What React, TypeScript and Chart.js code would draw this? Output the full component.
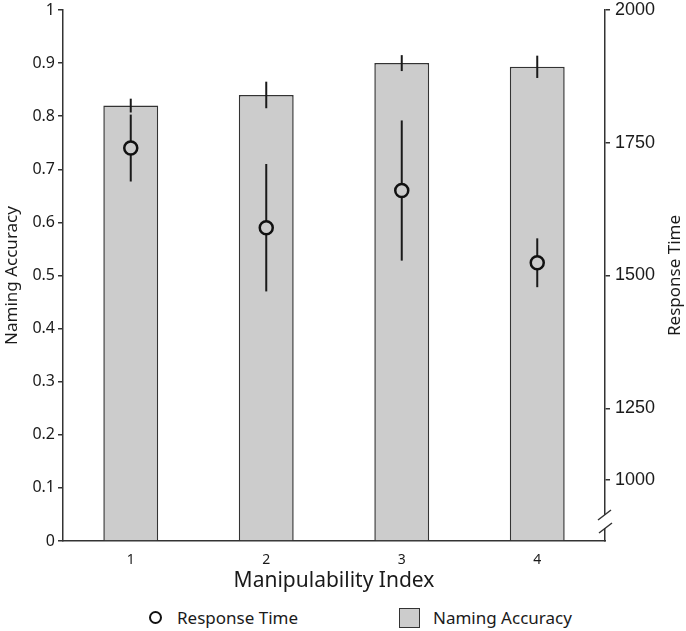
import { useEffect, useRef } from "react";
import { Chart, registerables } from "chart.js";
Chart.register(...registerables);

const categories = ["1", "2", "3", "4"];
const accuracy = [0.82, 0.84, 0.9, 0.893];
const accuracyErr = [0.013, 0.025, 0.015, 0.021];
const responseTime = [1740, 1590, 1660, 1524];
const responseTimeErr = [63, 120, 132, 46];
const accuracyTicks = [0, 0.1, 0.2, 0.3, 0.4, 0.5, 0.6, 0.7, 0.8, 0.9, 1];
// the right axis is broken: "1000" sits just above the break
const rtTickValues = [1115, 1250, 1500, 1750, 2000];
const rtTickLabels = ["1000", "1250", "1500", "1750", "2000"];

const FONT = "'Noto Sans', sans-serif";
const RIGHT_FONT = "'Liberation Sans', Arial, sans-serif";
const INK = "#1a1a1a";
const AXIS = "#333";

const errorBars = {
  id: "errorBars",
  afterDatasetDraw(chart: any, args: any) {
    if (args.index !== 0) return;
    const { ctx } = chart;
    const x = chart.scales.x;
    const y = chart.scales.y;
    const y1 = chart.scales.y1;
    ctx.save();
    ctx.strokeStyle = INK;
    ctx.lineWidth = 2;
    const vline = (px: number, a: number, b: number) => {
      ctx.beginPath();
      ctx.moveTo(px, a);
      ctx.lineTo(px, b);
      ctx.stroke();
    };
    categories.forEach((_, i) => {
      const px = x.getPixelForValue(i);
      vline(px, y.getPixelForValue(accuracy[i] + accuracyErr[i]), y.getPixelForValue(accuracy[i] - accuracyErr[i]));
      vline(px, y1.getPixelForValue(responseTime[i] + responseTimeErr[i]), y1.getPixelForValue(responseTime[i] - responseTimeErr[i]));
    });
    ctx.restore();
  },
};

const axisBreak = {
  id: "axisBreak",
  afterDraw(chart: any) {
    const { ctx, chartArea } = chart;
    const ax = chartArea.right;
    const b = chartArea.bottom;
    ctx.save();
    ctx.fillStyle = "#fff";
    ctx.fillRect(ax - 2, b - 26, 4, 13);
    ctx.strokeStyle = AXIS;
    ctx.lineWidth = 1.5;
    ctx.beginPath();
    ctx.moveTo(ax - 7, b - 21);
    ctx.lineTo(ax + 6, b - 31);
    ctx.moveTo(ax - 6, b - 8);
    ctx.lineTo(ax + 7, b - 18);
    ctx.stroke();
    // right axis title, reading bottom to top
    ctx.translate(675, (chartArea.top + chartArea.bottom) / 2);
    ctx.rotate(-Math.PI / 2);
    ctx.fillStyle = INK;
    ctx.font = `17px ${FONT}`;
    ctx.textAlign = "center";
    ctx.textBaseline = "middle";
    ctx.fillText("Response Time", 0, 0);
    ctx.restore();
  },
};

export default function App() {
  const canvasRef = useRef<HTMLCanvasElement>(null);

  useEffect(() => {
    document.body.style.margin = "0";
    if (!canvasRef.current) return;
    const ctx = canvasRef.current.getContext("2d");
    if (!ctx) return;

    const tickGrid = { drawOnChartArea: false, drawTicks: true, tickLength: 5, color: AXIS, lineWidth: 1.5 };

    const chart = new Chart(ctx, {
      type: "bar",
      data: {
        labels: categories,
        datasets: [
          {
            type: "bar",
            label: "Naming Accuracy",
            data: accuracy,
            backgroundColor: "#cccccc",
            borderColor: AXIS,
            borderWidth: 1.5,
            barPercentage: 0.405,
            categoryPercentage: 1,
            yAxisID: "y",
            order: 2,
          },
          {
            type: "line",
            label: "Response Time",
            data: responseTime,
            showLine: false,
            pointStyle: "circle",
            pointRadius: 6.5,
            pointBorderWidth: 2.5,
            pointBorderColor: "#111",
            pointBackgroundColor: "#cccccc",
            yAxisID: "y1",
            order: 1,
          } as any,
        ],
      },
      options: {
        responsive: false,
        animation: false,
        events: [],
        layout: { padding: { top: 10, left: 0, right: 0, bottom: 0 } },
        plugins: { legend: { display: false }, tooltip: { enabled: false } },
        scales: {
          x: {
            grid: { display: false },
            border: { display: true, color: AXIS, width: 1.5 },
            ticks: { color: INK, font: { family: FONT, size: 14 }, padding: 3 },
            title: {
              display: true,
              text: "Manipulability Index",
              color: INK,
              font: { family: FONT, size: 21 },
              padding: { top: 0, bottom: 6 },
            },
            afterFit: (s: any) => {
              s.height = 59;
              s.paddingLeft = 0;
              s.paddingRight = 0;
            },
          },
          y: {
            position: "left",
            min: 0,
            max: 1,
            afterBuildTicks: (s: any) => {
              s.ticks = accuracyTicks.map((v) => ({ value: v }));
            },
            ticks: { color: INK, font: { family: FONT, size: 16 }, padding: 3, callback: (v: any) => String(v) },
            grid: tickGrid,
            border: { display: true, color: AXIS, width: 1.5 },
            title: {
              display: true,
              text: "Naming Accuracy",
              color: INK,
              font: { family: FONT, size: 17 },
              padding: { top: 2, bottom: 0 },
            },
            afterFit: (s: any) => {
              s.width = 63;
              s.paddingTop = 0;
              s.paddingBottom = 0;
            },
          },
          y1: {
            position: "right",
            min: 1000,
            max: 2000,
            afterBuildTicks: (s: any) => {
              s.ticks = rtTickValues.map((v) => ({ value: v }));
            },
            ticks: {
              color: INK,
              font: { family: RIGHT_FONT, size: 18 },
              padding: 5,
              callback: (_v: any, i: number) => rtTickLabels[i],
            },
            grid: tickGrid,
            border: { display: true, color: AXIS, width: 1.5 },
            afterFit: (s: any) => {
              s.width = 81;
              s.paddingTop = 0;
              s.paddingBottom = 0;
            },
          },
        },
      } as any,
      plugins: [errorBars, axisBreak],
    });

    return () => chart.destroy();
  }, []);

  return (
    <div style={{ position: "relative", width: 686, height: 631, background: "#fff" }}>
      <canvas ref={canvasRef} width={686} height={600} style={{ position: "absolute", left: 0, top: 0 }} />
      <div style={{ position: "absolute", top: 606, left: 0, width: 686, height: 24, fontFamily: FONT, fontSize: 17, lineHeight: "24px", color: INK }}>
        <span
          style={{
            position: "absolute",
            left: 149,
            top: 5,
            width: 9,
            height: 9,
            border: "2.5px solid #111",
            borderRadius: "50%",
          }}
        />
        <span style={{ position: "absolute", left: 177, top: 0 }}>Response Time</span>
        <span
          style={{
            position: "absolute",
            left: 399,
            top: 2,
            width: 21,
            height: 20,
            boxSizing: "border-box",
            border: `1.5px solid ${AXIS}`,
            background: "#cccccc",
          }}
        />
        <span style={{ position: "absolute", left: 433, top: 0 }}>Naming Accuracy</span>
      </div>
    </div>
  );
}
